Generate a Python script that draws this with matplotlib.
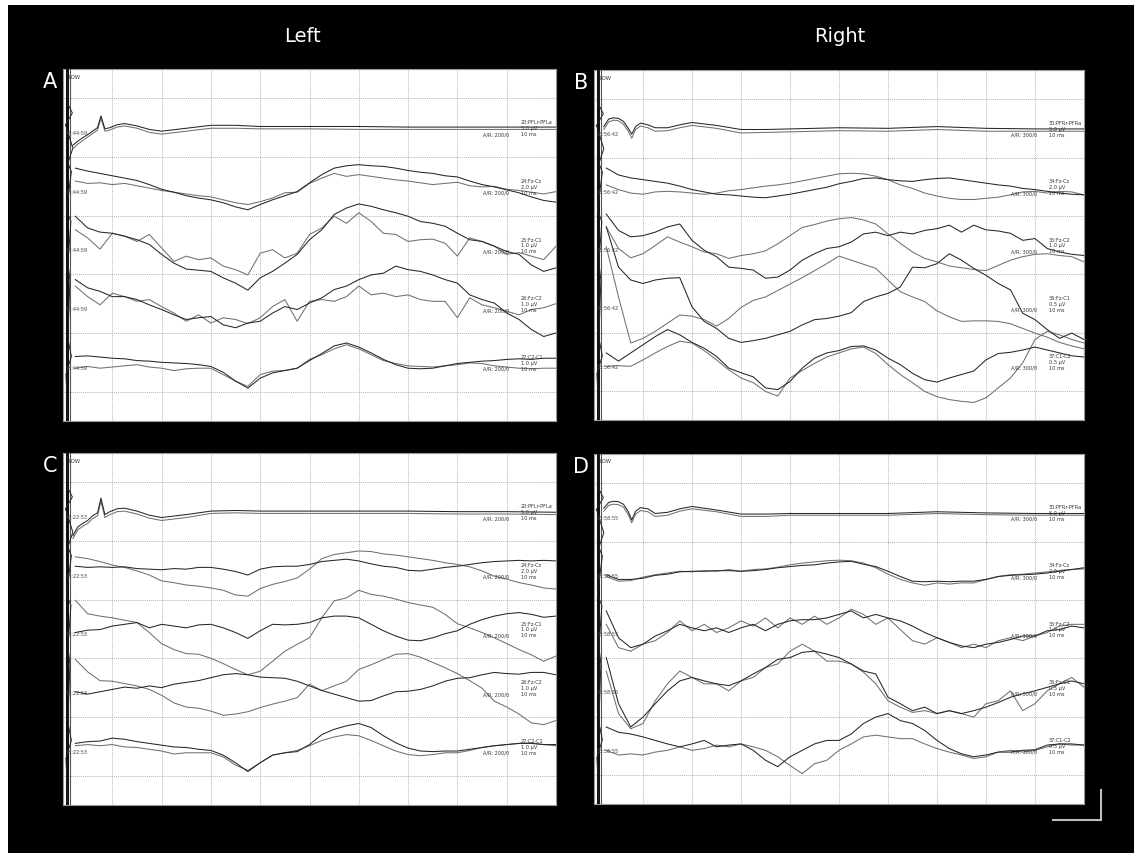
import matplotlib
matplotlib.use("Agg")
import matplotlib.pyplot as plt
from matplotlib.patches import Rectangle
from matplotlib.lines import Line2D

# time axis: divisions (10 ms / div), rows counted from the top of each panel
X_TOP = [0.2, 0.3, 0.4, 0.5, 0.6, 0.7, 0.77, 0.85, 0.95, 1.1, 1.25, 1.5, 1.75, 2.0,
         2.5, 3.0, 3.5, 4.0, 5.0, 6.0, 7.0, 8.0, 9.0, 10.0]
X_MAIN = [0.25, 0.5, 0.75, 1.0, 1.25, 1.5, 1.75, 2.0, 2.25, 2.5, 2.75, 3.0, 3.25, 3.5,
          3.75, 4.0, 4.25, 4.5, 4.75, 5.0, 5.25, 5.5, 5.75, 6.0, 6.25, 6.5, 6.75, 7.0,
          7.25, 7.5, 7.75, 8.0, 8.25, 8.5, 8.75, 9.0, 9.25, 9.5, 9.75, 10.0]

# stimulus artefact at the left edge
ART_X = [0.1, 0.1, 0.19, 0.05, 0.2, 0.1, 0.17, 0.07, 0.16, 0.1, 0.14, 0.1, 0.17, 0.06, 0.1]
ART_Y = [0.0, 0.6, 0.75, 0.95, 1.35, 1.6, 1.75, 2.4, 2.6, 3.3, 3.6, 4.6, 4.9, 5.2, 6.0]

# ---- panel A (left, first recording)
A1_DK = [1.30, 1.23, 1.17, 1.12, 1.06, 1.0, 0.80, 1.02, 1.0, 0.95, 0.93, 0.97, 1.03, 1.06,
         1.01, 0.96, 0.96, 0.98, 0.98, 0.98, 0.99, 0.99, 0.99, 0.99]
A1_LT = [1.36, 1.28, 1.22, 1.16, 1.10, 1.04, 0.84, 1.06, 1.04, 0.99, 0.97, 1.01, 1.08, 1.11,
         1.06, 1.01, 1.01, 1.02, 1.02, 1.03, 1.03, 1.03, 1.03, 1.03]
A2_DK = [1.69, 1.74, 1.78, 1.82, 1.86, 1.90, 1.97, 2.05, 2.10, 2.16, 2.20, 2.23, 2.28, 2.35,
         2.40, 2.31, 2.23, 2.16, 2.09, 1.94, 1.80, 1.69, 1.65, 1.63, 1.65, 1.66, 1.69, 1.73,
         1.76, 1.78, 1.82, 1.84, 1.91, 1.97, 2.01, 2.06, 2.11, 2.18, 2.24, 2.27]
A2_LT = [1.91, 1.95, 1.94, 1.97, 1.95, 1.99, 2.03, 2.07, 2.10, 2.13, 2.16, 2.18, 2.23, 2.28,
         2.31, 2.26, 2.20, 2.11, 2.10, 1.95, 1.86, 1.78, 1.83, 1.80, 1.83, 1.86, 1.89, 1.91,
         1.94, 1.97, 1.95, 1.93, 1.99, 2.01, 2.0, 2.05, 2.07, 2.10, 2.13, 2.09]
A3_DK = [2.51, 2.71, 2.78, 2.80, 2.85, 2.91, 2.99, 3.16, 3.31, 3.41, 3.43, 3.45, 3.56, 3.65,
         3.77, 3.56, 3.45, 3.31, 3.16, 2.91, 2.74, 2.48, 2.37, 2.30, 2.34, 2.40, 2.45, 2.51,
         2.60, 2.63, 2.68, 2.80, 2.91, 2.94, 3.02, 3.11, 3.16, 3.34, 3.45, 3.39]
A3_LT = [2.74, 2.88, 3.07, 2.80, 2.85, 2.94, 2.82, 3.05, 3.28, 3.19, 3.25, 3.22, 3.36, 3.42,
         3.51, 3.14, 3.08, 3.22, 3.14, 2.82, 2.71, 2.51, 2.63, 2.45, 2.60, 2.80, 2.82, 2.94,
         2.91, 2.90, 2.97, 3.19, 2.88, 2.94, 3.02, 3.16, 3.13, 3.19, 3.25, 3.02]
A4_DK = [3.59, 3.73, 3.79, 3.88, 3.88, 3.93, 4.02, 4.10, 4.19, 4.27, 4.24, 4.22, 4.36, 4.41,
         4.33, 4.30, 4.16, 4.05, 4.10, 3.99, 3.90, 3.76, 3.70, 3.59, 3.51, 3.48, 3.36, 3.42,
         3.45, 3.51, 3.59, 3.65, 3.85, 3.93, 3.99, 4.16, 4.27, 4.44, 4.56, 4.50]
A4_LT = [3.70, 3.88, 4.02, 3.82, 3.88, 3.96, 3.93, 4.05, 4.16, 4.30, 4.19, 4.33, 4.24, 4.27,
         4.34, 4.24, 4.05, 3.93, 4.30, 3.96, 3.93, 3.96, 3.88, 3.70, 3.85, 3.82, 3.88, 3.85,
         3.93, 3.96, 3.96, 4.24, 3.90, 4.02, 4.07, 4.13, 4.19, 4.10, 4.07, 4.00]
A5_DK = [4.90, 4.89, 4.91, 4.93, 4.94, 4.97, 4.98, 5.0, 5.01, 5.02, 5.04, 5.07, 5.17, 5.32,
         5.44, 5.27, 5.18, 5.14, 5.10, 4.97, 4.85, 4.72, 4.67, 4.74, 4.84, 4.95, 5.04, 5.10,
         5.11, 5.10, 5.06, 5.02, 5.0, 4.98, 4.97, 4.95, 4.94, 4.95, 4.93, 4.93]
A5_LT = [5.10, 5.07, 5.10, 5.08, 5.06, 5.04, 5.08, 5.10, 5.14, 5.11, 5.10, 5.10, 5.21, 5.32,
         5.41, 5.21, 5.15, 5.14, 5.10, 4.95, 4.87, 4.77, 4.70, 4.77, 4.87, 4.97, 5.02, 5.06,
         5.07, 5.08, 5.06, 5.04, 5.01, 5.02, 5.06, 5.08, 5.10, 5.11, 5.10, 5.10]

# ---- panel B (right, first recording)
B1_DK = [0.97, 0.84, 0.82, 0.83, 0.88, 1.0, 1.10, 0.97, 0.91, 0.94, 0.99, 0.99, 0.94, 0.90,
         0.95, 1.02, 1.02, 1.01, 0.99, 1.0, 0.97, 1.0, 1.01, 1.01]
B1_LT = [1.02, 0.89, 0.86, 0.87, 0.93, 1.05, 1.17, 1.02, 0.96, 0.99, 1.05, 1.04, 0.99, 0.95,
         1.0, 1.08, 1.07, 1.06, 1.04, 1.05, 1.02, 1.05, 1.05, 1.05]
B2_DK = [1.68, 1.80, 1.85, 1.88, 1.91, 1.94, 1.99, 2.05, 2.09, 2.13, 2.14, 2.16, 2.18, 2.19,
         2.16, 2.13, 2.09, 2.05, 2.01, 1.95, 1.91, 1.86, 1.85, 1.88, 1.90, 1.91, 1.88, 1.86,
         1.85, 1.88, 1.91, 1.94, 1.97, 1.99, 2.03, 2.05, 2.08, 2.11, 2.13, 2.14]
B2_LT = [1.97, 2.05, 2.11, 2.13, 2.09, 2.08, 2.09, 2.11, 2.13, 2.11, 2.07, 2.05, 2.02, 1.99,
         1.97, 1.94, 1.90, 1.86, 1.82, 1.78, 1.77, 1.78, 1.82, 1.88, 1.97, 2.03, 2.11, 2.16,
         2.20, 2.22, 2.22, 2.20, 2.18, 2.14, 2.09, 2.08, 2.11, 2.08, 2.09, 2.14]
B3_DK = [2.47, 2.75, 2.86, 2.84, 2.78, 2.69, 2.64, 2.92, 3.09, 3.20, 3.38, 3.40, 3.43, 3.57,
         3.55, 3.43, 3.26, 3.15, 3.06, 3.03, 2.95, 2.81, 2.78, 2.84, 2.78, 2.81, 2.75, 2.72,
         2.66, 2.78, 2.66, 2.74, 2.76, 2.80, 2.92, 2.89, 3.06, 3.12, 3.16, 3.18]
B3_LT = [2.69, 3.06, 3.22, 3.15, 3.01, 2.86, 2.95, 3.03, 3.12, 3.15, 3.23, 3.18, 3.15, 3.10,
         2.98, 2.84, 2.70, 2.65, 2.59, 2.55, 2.53, 2.57, 2.64, 2.81, 2.97, 3.12, 3.23, 3.29,
         3.36, 3.39, 3.42, 3.44, 3.35, 3.26, 3.20, 3.16, 3.15, 3.18, 3.20, 3.29]
B4_DK = [2.69, 3.38, 3.60, 3.66, 3.60, 3.57, 3.56, 4.06, 4.31, 4.43, 4.60, 4.67, 4.64, 4.60,
         4.54, 4.48, 4.37, 4.28, 4.26, 4.22, 4.16, 3.97, 3.89, 3.83, 3.72, 3.38, 3.39, 3.32,
         3.15, 3.26, 3.40, 3.52, 3.66, 3.77, 4.17, 4.28, 4.45, 4.60, 4.51, 4.62]
B4_LT = [3.03, 3.89, 4.68, 4.60, 4.48, 4.34, 4.20, 4.22, 4.28, 4.39, 4.26, 4.07, 3.95, 3.89,
         3.78, 3.67, 3.56, 3.44, 3.32, 3.19, 3.26, 3.33, 3.40, 3.60, 3.80, 3.89, 3.97, 4.13,
         4.23, 4.31, 4.30, 4.30, 4.31, 4.35, 4.43, 4.51, 4.58, 4.67, 4.73, 4.78]
B5_DK = [4.85, 4.99, 4.85, 4.71, 4.57, 4.45, 4.54, 4.67, 4.77, 4.91, 5.11, 5.19, 5.26, 5.45,
         5.48, 5.34, 5.11, 4.94, 4.85, 4.81, 4.74, 4.73, 4.80, 4.94, 5.05, 5.20, 5.31, 5.35,
         5.28, 5.22, 5.16, 4.97, 4.86, 4.84, 4.80, 4.75, 4.80, 4.85, 4.90, 4.92]
B5_LT = [5.08, 5.07, 5.08, 4.97, 4.85, 4.74, 4.65, 4.68, 4.81, 4.97, 5.14, 5.28, 5.36, 5.51,
         5.59, 5.28, 5.15, 5.03, 4.92, 4.85, 4.78, 4.75, 4.86, 5.05, 5.22, 5.36, 5.51, 5.60,
         5.65, 5.68, 5.70, 5.62, 5.45, 5.28, 5.02, 4.62, 4.48, 4.54, 4.62, 4.68]

# ---- panel C (left, second recording)
C1_DK = [1.41, 1.26, 1.20, 1.15, 1.07, 1.02, 0.77, 1.05, 1.0, 0.95, 0.94, 0.99, 1.06, 1.10,
         1.05, 0.99, 0.98, 0.99, 0.99, 0.99, 0.99, 1.0, 1.0, 1.01]
C1_LT = [1.46, 1.31, 1.25, 1.20, 1.12, 1.07, 0.82, 1.10, 1.05, 1.0, 0.99, 1.04, 1.11, 1.15,
         1.10, 1.03, 1.02, 1.03, 1.03, 1.03, 1.03, 1.04, 1.04, 1.05]
C2_LT = [1.77, 1.80, 1.85, 1.91, 1.95, 2.01, 2.08, 2.18, 2.21, 2.25, 2.27, 2.30, 2.34, 2.42,
         2.44, 2.31, 2.24, 2.19, 2.13, 1.98, 1.80, 1.73, 1.70, 1.67, 1.68, 1.72, 1.74, 1.77,
         1.80, 1.83, 1.87, 1.90, 1.94, 2.01, 2.10, 2.15, 2.21, 2.25, 2.30, 2.32]
C2_DK = [1.93, 1.95, 1.94, 1.95, 1.94, 1.97, 1.98, 1.99, 1.97, 1.98, 1.95, 1.95, 1.98, 2.02,
         2.08, 1.98, 1.94, 1.93, 1.93, 1.90, 1.85, 1.83, 1.81, 1.84, 1.89, 1.93, 1.95, 2.0,
         2.01, 1.98, 1.95, 1.93, 1.90, 1.87, 1.85, 1.84, 1.83, 1.84, 1.83, 1.84]
C3_LT = [2.51, 2.74, 2.78, 2.81, 2.85, 2.89, 3.06, 3.25, 3.35, 3.42, 3.43, 3.50, 3.59, 3.69,
         3.78, 3.72, 3.55, 3.38, 3.26, 3.15, 2.81, 2.52, 2.47, 2.34, 2.41, 2.44, 2.49, 2.55,
         2.59, 2.63, 2.75, 2.91, 2.98, 3.06, 3.15, 3.25, 3.35, 3.44, 3.55, 3.46]
C3_DK = [3.06, 3.02, 3.01, 2.95, 2.92, 2.89, 2.98, 2.92, 2.95, 2.98, 2.93, 2.92, 2.98, 3.06,
         3.16, 3.03, 2.92, 2.93, 2.92, 2.89, 2.81, 2.78, 2.78, 2.81, 2.92, 3.03, 3.12, 3.19,
         3.20, 3.15, 3.08, 3.03, 2.92, 2.84, 2.78, 2.74, 2.72, 2.75, 2.80, 2.78]
C4_LT = [3.52, 3.73, 3.88, 3.89, 3.93, 3.97, 4.03, 4.13, 4.26, 4.33, 4.35, 4.40, 4.47, 4.45,
         4.41, 4.34, 4.28, 4.23, 4.17, 3.94, 4.05, 3.97, 3.89, 3.69, 3.61, 3.52, 3.43, 3.42,
         3.48, 3.57, 3.66, 3.76, 3.88, 4.01, 4.23, 4.33, 4.45, 4.60, 4.63, 4.56]
C4_DK = [4.07, 4.11, 4.07, 4.03, 3.99, 4.01, 3.97, 4.0, 3.94, 3.91, 3.88, 3.83, 3.78, 3.76,
         3.78, 3.82, 3.83, 3.84, 3.89, 3.97, 4.05, 4.11, 4.17, 4.23, 4.22, 4.14, 4.07, 4.06,
         4.03, 3.97, 3.89, 3.84, 3.83, 3.78, 3.74, 3.76, 3.77, 3.74, 3.74, 3.78]
C5_DK = [4.95, 4.92, 4.91, 4.86, 4.88, 4.92, 4.95, 4.98, 5.01, 5.02, 5.05, 5.07, 5.15, 5.28,
         5.43, 5.28, 5.15, 5.11, 5.09, 4.97, 4.80, 4.71, 4.65, 4.61, 4.68, 4.82, 4.94, 5.03,
         5.08, 5.09, 5.08, 5.08, 5.05, 5.02, 4.99, 4.97, 4.95, 4.95, 4.97, 4.97]
C5_LT = [4.99, 4.97, 4.99, 4.97, 5.01, 5.02, 5.05, 5.08, 5.13, 5.11, 5.11, 5.11, 5.18, 5.32,
         5.41, 5.28, 5.15, 5.11, 5.07, 4.99, 4.90, 4.84, 4.80, 4.82, 4.90, 4.99, 5.08, 5.14,
         5.16, 5.14, 5.11, 5.11, 5.07, 5.02, 4.99, 4.97, 4.95, 4.94, 4.97, 4.99]

# ---- panel D (right, second recording)
D1_DK = [0.93, 0.83, 0.81, 0.82, 0.86, 0.99, 1.13, 0.98, 0.92, 0.94, 1.02, 1.0, 0.94, 0.90,
         0.96, 1.03, 1.03, 1.02, 1.02, 1.02, 0.99, 1.01, 1.02, 1.02]
D1_LT = [0.98, 0.88, 0.86, 0.87, 0.91, 1.04, 1.18, 1.03, 0.97, 0.99, 1.07, 1.05, 0.98, 0.94,
         0.99, 1.07, 1.07, 1.05, 1.05, 1.05, 1.02, 1.04, 1.05, 1.05]
D2_DK = [2.07, 2.15, 2.15, 2.13, 2.08, 2.06, 2.02, 2.01, 2.01, 2.0, 2.0, 2.01, 2.0, 1.98,
         1.95, 1.93, 1.91, 1.90, 1.87, 1.85, 1.84, 1.89, 1.93, 2.01, 2.10, 2.18, 2.19, 2.18,
         2.19, 2.18, 2.18, 2.15, 2.10, 2.08, 2.07, 2.06, 2.04, 2.01, 1.98, 1.95]
D2_LT = [2.10, 2.18, 2.17, 2.11, 2.07, 2.04, 2.01, 2.02, 2.0, 2.01, 1.98, 2.01, 1.98, 1.97,
         1.94, 1.90, 1.87, 1.85, 1.83, 1.82, 1.83, 1.87, 1.95, 2.06, 2.15, 2.21, 2.25, 2.21,
         2.23, 2.21, 2.21, 2.15, 2.10, 2.07, 2.06, 2.04, 2.02, 2.0, 1.98, 1.97]
D3_DK = [2.69, 3.15, 3.32, 3.26, 3.12, 3.03, 2.92, 2.98, 3.03, 2.98, 3.06, 2.98, 2.92, 3.03,
         2.92, 2.86, 2.84, 2.84, 2.81, 2.75, 2.69, 2.81, 2.75, 2.81, 2.86, 2.95, 3.06, 3.15,
         3.23, 3.29, 3.32, 3.26, 3.23, 3.18, 3.12, 3.12, 3.03, 3.01, 2.95, 2.98]
D3_LT = [2.92, 3.32, 3.38, 3.26, 3.20, 3.06, 2.86, 3.03, 2.92, 3.06, 2.98, 2.86, 2.95, 2.81,
         2.98, 2.81, 2.92, 2.78, 2.92, 2.81, 2.66, 2.75, 2.92, 2.81, 3.01, 3.20, 3.26, 3.15,
         3.23, 3.32, 3.26, 3.32, 3.20, 3.15, 3.20, 3.12, 3.06, 2.95, 2.92, 2.92]
D4_DK = [3.49, 4.28, 4.68, 4.51, 4.28, 4.06, 3.89, 3.83, 3.89, 3.94, 3.97, 3.89, 3.77, 3.66,
         3.52, 3.49, 3.40, 3.38, 3.43, 3.49, 3.60, 3.72, 3.77, 4.17, 4.28, 4.40, 4.34, 4.45,
         4.40, 4.45, 4.40, 4.34, 4.26, 4.17, 4.11, 4.06, 4.0, 3.94, 3.89, 3.94]
D4_LT = [3.72, 4.45, 4.71, 4.62, 4.23, 3.94, 3.72, 3.83, 3.94, 3.94, 4.06, 3.89, 3.83, 3.66,
         3.60, 3.38, 3.26, 3.38, 3.55, 3.55, 3.60, 3.74, 3.94, 4.23, 4.34, 4.43, 4.40, 4.45,
         4.40, 4.45, 4.51, 4.28, 4.23, 4.06, 4.40, 4.28, 4.06, 3.94, 3.83, 4.0]
D5_DK = [4.68, 4.77, 4.80, 4.85, 4.91, 4.97, 5.02, 4.97, 4.91, 5.02, 4.99, 4.97, 5.08, 5.25,
         5.36, 5.19, 5.08, 4.97, 4.91, 4.91, 4.80, 4.62, 4.51, 4.45, 4.57, 4.62, 4.74, 4.91,
         5.05, 5.14, 5.19, 5.16, 5.11, 5.11, 5.08, 5.07, 4.99, 4.97, 4.97, 4.99]
D5_LT = [5.08, 5.16, 5.14, 5.16, 5.11, 5.08, 5.02, 5.08, 5.05, 4.99, 5.02, 4.97, 5.02, 5.08,
         5.19, 5.34, 5.48, 5.31, 5.25, 5.08, 4.97, 4.85, 4.82, 4.85, 4.88, 4.88, 4.97, 5.05,
         5.11, 5.16, 5.22, 5.19, 5.11, 5.08, 5.11, 5.08, 5.02, 4.97, 4.99, 4.99]

# channel labels (name, gain) per side
LEFT_CH = [("20:PFLr-PFLa", "5.0 µV"), ("24:Fz-Cz", "2.0 µV"), ("25:Fz-C1", "1.0 µV"),
           ("26:Fz-C2", "1.0 µV"), ("27:C2-C1", "1.0 µV")]
RIGHT_CH = [("30:PFRr-PFRa", "5.0 µV"), ("34:Fz-Cz", "2.0 µV"), ("35:Fz-C2", "1.0 µV"),
            ("36:Fz-C1", "0.5 µV"), ("37:C1-C2", "0.5 µV")]
CLOCK = {"A": "15:44:59", "B": "15:56:42", "C": "15:22:53", "D": "15:58:55"}
AVG = {"A": "A/R: 200/0", "B": "A/R: 300/0", "C": "A/R: 200/0", "D": "A/R: 300/0"}

W, H = 1134, 854
DARK = "#262626"
LIGHT = "#707070"

panels = {
    "A": ((63, 70, 493, 352), LEFT_CH, [(A1_DK, A1_LT), (A2_DK, A2_LT), (A3_DK, A3_LT), (A4_DK, A4_LT), (A5_DK, A5_LT)]),
    "B": ((594, 71, 490, 350), RIGHT_CH, [(B1_DK, B1_LT), (B2_DK, B2_LT), (B3_DK, B3_LT), (B4_DK, B4_LT), (B5_DK, B5_LT)]),
    "C": ((63, 454, 493, 352), LEFT_CH, [(C1_DK, C1_LT), (C2_DK, C2_LT), (C3_DK, C3_LT), (C4_DK, C4_LT), (C5_DK, C5_LT)]),
    "D": ((594, 455, 490, 350), RIGHT_CH, [(D1_DK, D1_LT), (D2_DK, D2_LT), (D3_DK, D3_LT), (D4_DK, D4_LT), (D5_DK, D5_LT)]),
}

fig = plt.figure(figsize=(W / 100, H / 100), dpi=100, facecolor="white")
fig.add_artist(Rectangle((8 / W, 0), 1 - 8 / W, 1 - 6 / H, transform=fig.transFigure,
                         facecolor="black", edgecolor="none", zorder=0))

fig.text(302 / W, 1 - 37 / H, "Left", color="white", fontsize=14, ha="center", va="center")
fig.text(840 / W, 1 - 37 / H, "Right", color="white", fontsize=14, ha="center", va="center")

for key, (box, chans, traces) in panels.items():
    px, py, pw, ph = box
    ax = fig.add_axes([px / W, 1 - (py + ph) / H, pw / W, ph / H])
    ax.set_facecolor("white")
    ax.set_xlim(0, 10)
    ax.set_ylim(6, 0)
    ax.set_xticks([])
    ax.set_yticks([])
    for s in ax.spines.values():
        s.set_color("#9a9a9a")
        s.set_linewidth(0.8)
    for gx in range(1, 10):
        ax.axvline(gx, color="#b5b5b5", lw=0.7, ls=(0, (1, 1)), zorder=1)
    for gy in [0.5, 1.5, 2.5, 3.5, 4.5, 5.5]:
        ax.axhline(gy, color="#b5b5b5", lw=0.7, ls=(0, (1, 1)), zorder=1)

    # artefact band
    ax.axvline(0.09, color="#111111", lw=2.2, zorder=3)
    ax.axvline(0.14, color="#555555", lw=0.8, zorder=3)
    ax.plot(ART_X, ART_Y, color="#222222", lw=0.7, zorder=3)

    for i, (dk, lt) in enumerate(traces):
        xs = X_TOP if i == 0 else X_MAIN
        ax.plot(xs, lt, color=LIGHT, lw=0.75, zorder=4)
        ax.plot(xs, dk, color=DARK, lw=0.75, zorder=5)
        base = i + 1
        ax.text(0.05, base + 0.08, CLOCK[key], fontsize=3.6, color="#444444", va="center", zorder=6)
        ax.text(9.28, base - 0.1, chans[i][0], fontsize=3.6, color="#333333", va="center", zorder=6)
        ax.text(9.28, base, chans[i][1], fontsize=3.6, color="#333333", va="center", zorder=6)
        ax.text(9.28, base + 0.1, "10 ms", fontsize=3.6, color="#333333", va="center", zorder=6)
        ax.text(8.52, base + 0.1, AVG[key], fontsize=3.6, color="#333333", va="center", zorder=6)

    ax.text(0.12, 0.12, "LOW", fontsize=3.8, color="#333333", va="center", zorder=6)

    fig.text((px - 13) / W, 1 - (py + 12) / H, key, color="white", fontsize=15,
             ha="center", va="center")

# scale bar, bottom right
fig.add_artist(Line2D([1101 / W, 1101 / W], [1 - 791 / H, 1 - 821 / H], color="#bdbdbd", lw=1.5))
fig.add_artist(Line2D([1053 / W, 1101 / W], [1 - 821 / H, 1 - 821 / H], color="#bdbdbd", lw=1.5))

fig.savefig("out.png", dpi=100, facecolor=fig.get_facecolor())
